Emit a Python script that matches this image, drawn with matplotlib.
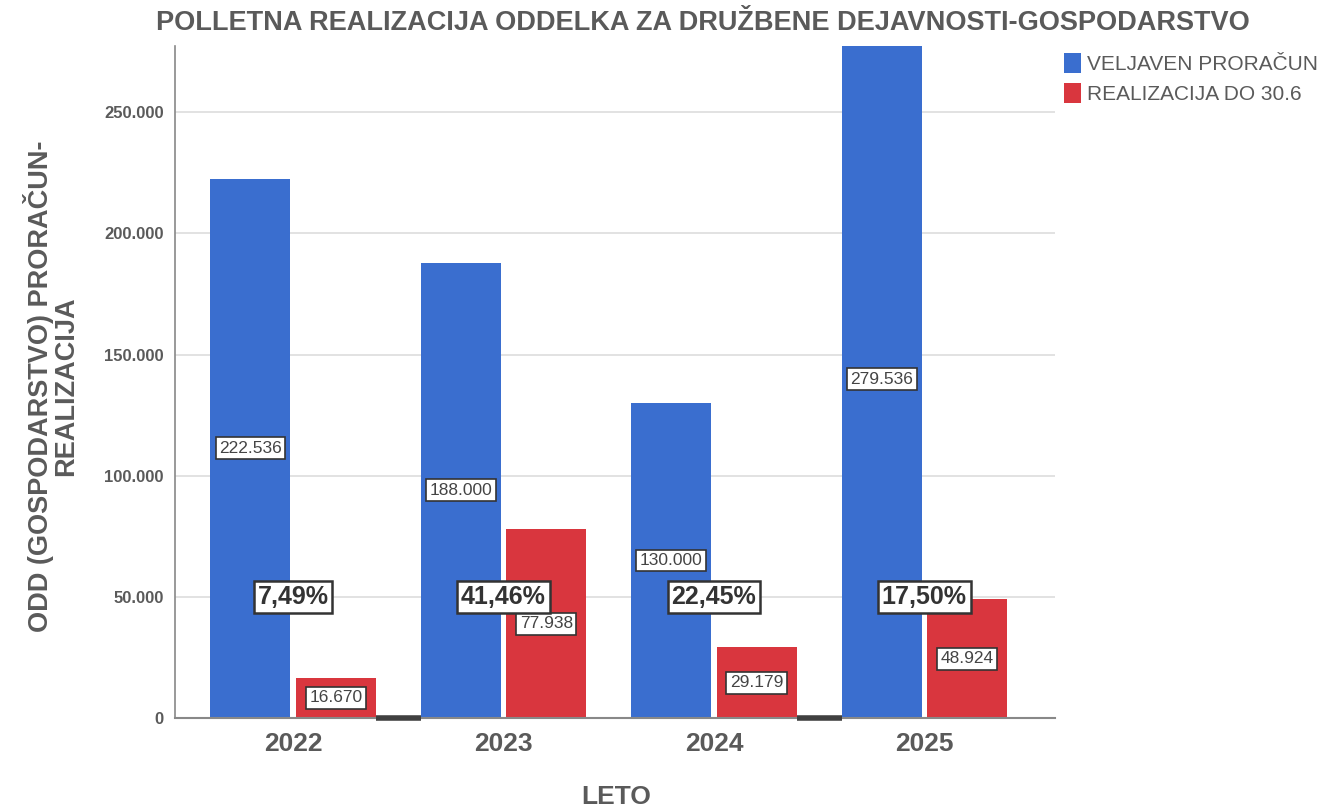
import matplotlib
matplotlib.use("Agg")
import matplotlib.pyplot as plt
import numpy as np
from matplotlib.ticker import FuncFormatter, MultipleLocator

years = ["2022", "2023", "2024", "2025"]
budget = [222536, 188000, 130000, 279536]
realized = [16670, 77938, 29179, 48924]
budget_labels = ["222.536", "188.000", "130.000", "279.536"]
realized_labels = ["16.670", "77.938", "29.179", "48.924"]
pct_labels = ["7,49%", "41,46%", "22,45%", "17,50%"]

BLUE = "#3A6ECF"
RED = "#D9363E"
GRAY = "#5a5a5a"
FAM = ["Liberation Sans", "DejaVu Sans"]
plt.rcParams['font.family'] = FAM

fig = plt.figure(figsize=(13.33, 8.10), dpi=100)
ax = fig.add_axes([0.1313, 0.1136, 0.660, 0.830])

x = np.arange(len(years))
w = 0.38
off = 0.203
ax.bar(x - off, budget, w, color=BLUE, label="VELJAVEN PRORAČUN", zorder=2)
ax.bar(x + off, realized, w, color=RED, label="REALIZACIJA DO 30.6", zorder=2)

# dark baseline segments between some groups (as in the reference)
for i in [0, 2]:
    ax.hlines(0, x[i] + off + w / 2, x[i + 1] - off - w / 2, color="#404040", lw=4,
              zorder=5, clip_on=False)

box = dict(boxstyle="square,pad=0.2", fc="white", ec="#333333", lw=1.2)
for i in range(len(years)):
    ax.text(x[i] - off, budget[i] / 2, budget_labels[i],
            ha="center", va="center", fontsize=12.5, color="#444444", bbox=box, zorder=4)
    ax.text(x[i] + off, realized[i] / 2, realized_labels[i],
            ha="center", va="center", fontsize=12.5, color="#444444", bbox=box, zorder=4)
    ax.text(x[i], 50000, pct_labels[i], ha="center", va="center", fontsize=18,
            fontweight="bold", color="#333333",
            bbox=dict(boxstyle="square,pad=0.15", fc="white", ec="#333333", lw=1.8), zorder=5)

ax.set_xlim(-0.561, 3.62)
ax.set_ylim(0, 277500)
ax.yaxis.set_major_locator(MultipleLocator(50000))
ax.yaxis.set_major_formatter(FuncFormatter(lambda v, p: "0" if v == 0 else f"{int(v):,}".replace(",", ".")))
ax.grid(axis="y", color="#dddddd", lw=1.2, zorder=0)
ax.set_axisbelow(True)

for s in ["top", "right"]:
    ax.spines[s].set_visible(False)
ax.spines["left"].set_color("#888888")
ax.spines["bottom"].set_color("#888888")
ax.spines["left"].set_linewidth(1.2)
ax.spines["bottom"].set_linewidth(1.5)
ax.tick_params(axis="both", length=0)
ax.tick_params(axis="y", labelsize=12, labelcolor=GRAY, pad=8)
ax.set_xticks(x)
ax.set_xticklabels(years, fontsize=19, fontweight="bold", color=GRAY)
ax.tick_params(axis="x", pad=10)
for lab in ax.get_yticklabels():
    lab.set_fontweight("bold")

fig.text(0.462, 0.016, "LETO", ha="center", va="center", fontsize=19,
         fontweight="bold", color=GRAY)
fig.text(0.038, 0.523, "ODD (GOSPODARSTVO) PRORAČUN-\nREALIZACIJA", rotation=90,
         ha="center", va="center", fontsize=19.5, fontweight="bold", color=GRAY,
         linespacing=0.95)

fig.text(0.527, 0.972, "POLLETNA REALIZACIJA ODDELKA ZA DRUŽBENE DEJAVNOSTI-GOSPODARSTVO",
         ha="center", va="center", fontsize=19.5, fontweight="bold", color=GRAY)

leg = fig.legend(loc="upper left", bbox_to_anchor=(0.792, 0.945), frameon=False,
                 fontsize=15, handlelength=0.8, handleheight=1.1, handletextpad=0.3,
                 labelspacing=0.45, borderaxespad=0)
for t in leg.get_texts():
    t.set_color(GRAY)

fig.savefig("out.png", dpi=100)
